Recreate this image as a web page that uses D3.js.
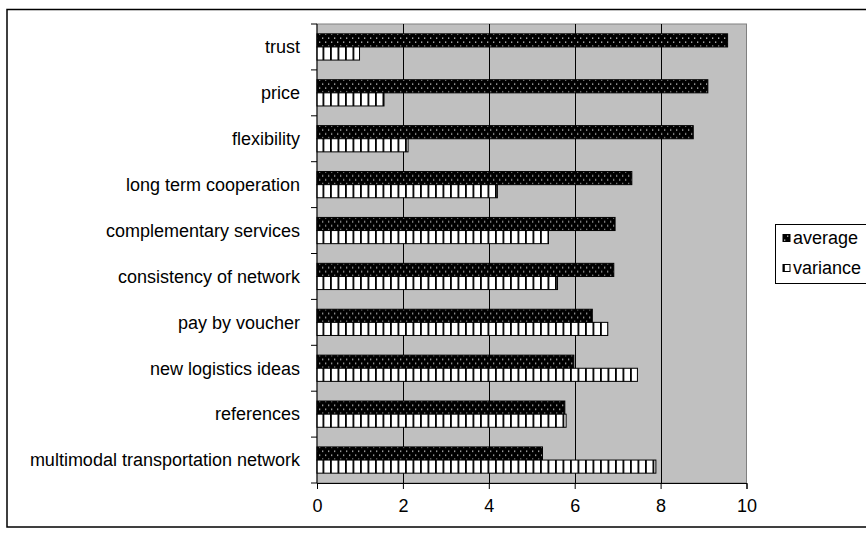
<!DOCTYPE html>
<html>
<head>
<meta charset="utf-8">
<script src="https://cdn.jsdelivr.net/npm/d3@7"></script>
<style>
  html, body { margin: 0; padding: 0; background: #fff; }
  svg { display: block; font-family: "Liberation Sans", Arial, sans-serif; }
</style>
</head>
<body>
<svg id="chart" width="866" height="535"></svg>
<script>
// Factor ratings: mean score and variance per criterion
const categories = [
  "trust", "price", "flexibility", "long term cooperation",
  "complementary services", "consistency of network", "pay by voucher",
  "new logistics ideas", "references", "multimodal transportation network"
];
const averageValues  = [9.56, 9.10, 8.76, 7.33, 6.94, 6.91, 6.41, 5.98, 5.77, 5.25];
const varianceValues = [0.99, 1.56, 2.12, 4.20, 5.39, 5.60, 6.77, 7.46, 5.80, 7.89];
const seriesNames = ["average", "variance"];
const xTicks = [0, 2, 4, 6, 8, 10];

const svg = d3.select("#chart");
const plot = { left: 317, right: 746.5, top: 24, bottom: 483 };

// Hatch patterns for the two series
const defs = svg.append("defs");
const pAvg = defs.append("pattern")
  .attr("id", "pat-average").attr("patternUnits", "userSpaceOnUse")
  .attr("width", 6).attr("height", 8);
pAvg.append("rect").attr("width", 6).attr("height", 8).attr("fill", "#000");
pAvg.append("rect").attr("x", 1).attr("y", 1.5).attr("width", 1.3).attr("height", 1.3).attr("fill", "#c8c8c8");
pAvg.append("rect").attr("x", 4).attr("y", 5.5).attr("width", 1.3).attr("height", 1.3).attr("fill", "#c8c8c8");

const pVar = defs.append("pattern")
  .attr("id", "pat-variance").attr("patternUnits", "userSpaceOnUse")
  .attr("width", 7.5).attr("height", 8);
pVar.append("rect").attr("width", 7.5).attr("height", 8).attr("fill", "#fff");
pVar.append("rect").attr("x", 0).attr("y", 0).attr("width", 1.8).attr("height", 8).attr("fill", "#000");

const fills = { average: "url(#pat-average)", variance: "url(#pat-variance)" };

// Outer chart frame
svg.append("rect")
  .attr("x", 7).attr("y", 9.5).attr("width", 870).attr("height", 517.5)
  .attr("fill", "none").attr("stroke", "#000").attr("stroke-width", 1.5);

const x = d3.scaleLinear().domain([0, 10]).range([plot.left, plot.right]);
const y = d3.scaleBand().domain(categories).range([plot.top, plot.bottom]).padding(0);
const ySub = d3.scaleBand().domain(seriesNames).range([0, y.bandwidth()])
  .paddingInner(0).paddingOuter(0.75);

// Plot background
svg.append("rect")
  .attr("x", plot.left).attr("y", plot.top)
  .attr("width", plot.right - plot.left).attr("height", plot.bottom - plot.top)
  .attr("fill", "#c0c0c0").attr("stroke", "#808080").attr("stroke-width", 1);

// Vertical gridlines
svg.append("g").selectAll("line")
  .data(xTicks.filter(t => t > 0 && t < 10))
  .join("line")
  .attr("x1", d => Math.round(x(d)) + 0.5).attr("x2", d => Math.round(x(d)) + 0.5)
  .attr("y1", plot.top).attr("y2", plot.bottom)
  .attr("stroke", "#000").attr("stroke-width", 1);

// Bars
const rows = categories.map((c, i) => ({ cat: c, average: averageValues[i], variance: varianceValues[i] }));
const groups = svg.append("g").selectAll("g")
  .data(rows).join("g")
  .attr("transform", d => `translate(0,${y(d.cat)})`);
groups.selectAll("rect")
  .data(d => seriesNames.map(s => ({ s, v: d[s] })))
  .join("rect")
  .attr("x", x(0))
  .attr("y", d => ySub(d.s))
  .attr("width", d => x(d.v) - x(0))
  .attr("height", ySub.bandwidth())
  .attr("fill", d => fills[d.s])
  .attr("stroke", "#000").attr("stroke-width", 1);

// Axes
const xAxis = d3.axisBottom(x).tickValues(xTicks).tickSize(6).tickPadding(10)
  .tickFormat(d3.format("d"));
const gx = svg.append("g").attr("transform", `translate(0,${plot.bottom})`).call(xAxis);
gx.select(".domain").attr("stroke", "#000");
gx.selectAll(".tick line").attr("stroke", "#000");
gx.selectAll("text").attr("font-size", 18).attr("fill", "#000")
  .attr("font-family", "'Liberation Sans', Arial, sans-serif");

const yTickScale = d3.scaleLinear().domain([0, categories.length]).range([plot.top, plot.bottom]);
const gy = svg.append("g").attr("transform", `translate(${plot.left},0)`);
gy.append("line").attr("x1", 0).attr("x2", 0).attr("y1", plot.top).attr("y2", plot.bottom).attr("stroke", "#000");
gy.selectAll("line.tk").data(d3.range(categories.length + 1)).join("line")
  .attr("class", "tk")
  .attr("x1", -6).attr("x2", 0)
  .attr("y1", d => yTickScale(d)).attr("y2", d => yTickScale(d))
  .attr("stroke", "#000");
gy.selectAll("text").data(categories).join("text")
  .attr("x", -17)
  .attr("y", d => y(d) + y.bandwidth() / 2)
  .attr("dy", "0.35em")
  .attr("text-anchor", "end")
  .attr("font-size", 18)
  .attr("fill", "#000")
  .text(d => d);

// Legend
const legend = svg.append("g");
legend.append("rect")
  .attr("x", 775.5).attr("y", 224.5).attr("width", 100).attr("height", 59)
  .attr("fill", "#fff").attr("stroke", "#000").attr("stroke-width", 1);
const items = legend.selectAll("g.item").data(seriesNames).join("g")
  .attr("class", "item")
  .attr("transform", (d, i) => `translate(783,${238 + i * 30})`);
items.append("rect")
  .attr("x", 0).attr("y", -3.5).attr("width", 7).attr("height", 7)
  .attr("fill", d => fills[d]).attr("stroke", "#000").attr("stroke-width", 1);
items.append("text")
  .attr("x", 10).attr("y", 0).attr("dy", "0.35em")
  .attr("font-size", 18).attr("fill", "#000")
  .text(d => d);
</script>
</body>
</html>
